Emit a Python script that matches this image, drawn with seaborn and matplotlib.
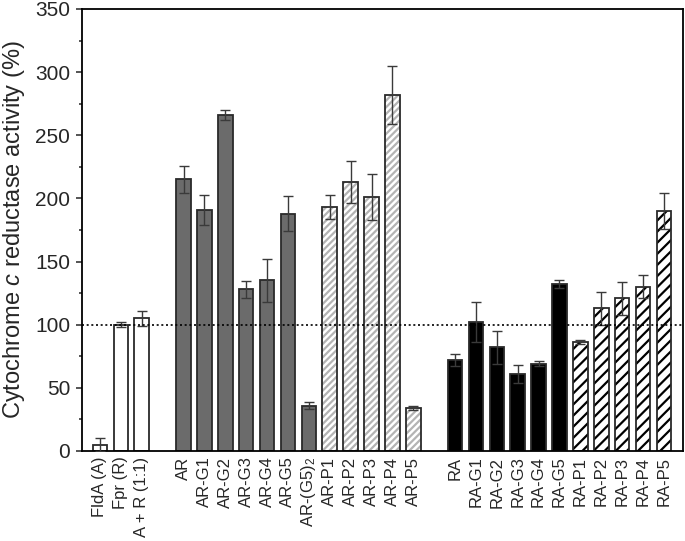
import matplotlib
matplotlib.use("Agg")
import matplotlib.pyplot as plt
from matplotlib.ticker import MultipleLocator
import seaborn as sns
import pandas as pd

# values (% activity, +/- error)
controls = ["FldA (A)", "Fpr (R)", "A + R (1:1)"]
control_vals = [5, 100, 105]
control_err = [5, 2, 6]

ar_g = ["AR", "AR-G1", "AR-G2", "AR-G3", "AR-G4", "AR-G5", "AR-(G5)$_2$"]
ar_g_vals = [215, 191, 266, 128, 135, 188, 36]
ar_g_err = [11, 12, 4, 6.5, 17, 14, 2.5]

ar_p = ["AR-P1", "AR-P2", "AR-P3", "AR-P4", "AR-P5"]
ar_p_vals = [193, 213, 201, 282, 34]
ar_p_err = [9.5, 17, 18, 23, 1.5]

ra_g = ["RA", "RA-G1", "RA-G2", "RA-G3", "RA-G4", "RA-G5"]
ra_g_vals = [72, 102, 82, 61, 69, 132]
ra_g_err = [5, 16, 13, 7, 2, 3]

ra_p = ["RA-P1", "RA-P2", "RA-P3", "RA-P4", "RA-P5"]
ra_p_vals = [86, 113, 121, 130, 190]
ra_p_err = [1.5, 13, 13, 9, 14]

# (face colour, hatch, hatch colour) per group
styles = {
    "ctrl": ("white", "", "white"),
    "ar_g": ("#6b6b6b", "", "#6b6b6b"),
    "ar_p": ("white", "/////", "#b4b4b4"),
    "ra_g": ("black", "", "black"),
    "ra_p": ("white", "///", "black"),
}

groups = [("ctrl", controls, control_vals, control_err),
          ("ar_g", ar_g, ar_g_vals, ar_g_err),
          ("ar_p", ar_p, ar_p_vals, ar_p_err),
          ("ra_g", ra_g, ra_g_vals, ra_g_err),
          ("ra_p", ra_p, ra_p_vals, ra_p_err)]
rows = []
for g, labs, vals, errs in groups:
    for l, v, e in zip(labs, vals, errs):
        rows.append({"label": l, "value": v, "err": e, "group": g})
df = pd.DataFrame(rows)

# empty slots between the three blocks
order = controls + [" "] + ar_g + ar_p + ["  "] + ra_g + ra_p

sns.set_style("ticks")
plt.rcParams["font.family"] = ["Liberation Sans", "DejaVu Sans"]
plt.rcParams["mathtext.fontset"] = "custom"
plt.rcParams["mathtext.rm"] = "Liberation Sans"
plt.rcParams["mathtext.it"] = "Liberation Sans:italic"
plt.rcParams["hatch.linewidth"] = 1.6

fig = plt.figure(figsize=(6.85, 5.41), dpi=100)
ax = fig.add_axes([0.1197, 0.1664, 0.8773, 0.817])

# filled / hatched bars
sns.barplot(data=df, x="label", y="value", order=order, width=0.7,
            color="white", saturation=1, linewidth=0, errorbar=None, ax=ax)
grp = dict(zip(df["label"], df["group"]))
for p in ax.patches:
    idx = int(round(p.get_x() + p.get_width() / 2))
    face, hatch, hcol = styles[grp[order[idx]]]
    p.set_edgecolor(hcol)
    p.set_facecolor(face)
    p.set_hatch(hatch)
    p.set_linewidth(0)

# outlines on top
sns.barplot(data=df, x="label", y="value", order=order, width=0.7,
            color="#2a2a2a", saturation=1, fill=False, linewidth=1.3,
            errorbar=None, ax=ax)

xpos = [order.index(l) for l in df["label"]]
ax.errorbar(xpos, df["value"], yerr=df["err"], fmt="none", ecolor="#3a3a3a",
            elinewidth=1.0, capsize=3.6, capthick=1.0, zorder=5)

ax.axhline(100, color="black", linestyle=(0, (1.2, 1.6)), linewidth=1.2, zorder=6)

ax.set_ylim(0, 350)
ax.set_xlim(-0.86, len(order) - 0.09)
ax.yaxis.set_major_locator(MultipleLocator(50))
ax.yaxis.set_minor_locator(MultipleLocator(25))
ax.tick_params(axis="y", which="major", length=4.5, width=1.1, labelsize=15, pad=4)
ax.tick_params(axis="y", which="minor", length=2.5, width=1.1)
ax.set_xticks(range(len(order)))
ax.set_xticklabels(order, rotation=90, fontsize=12)
ax.tick_params(axis="x", length=0, pad=4)
ax.set_xlabel("")
ax.set_ylabel("Cytochrome $\\mathit{c}$ reductase activity (%)", fontsize=17, labelpad=6)
for s in ax.spines.values():
    s.set_linewidth(1.3)
    s.set_color("black")

fig.savefig("out.png", dpi=100)
